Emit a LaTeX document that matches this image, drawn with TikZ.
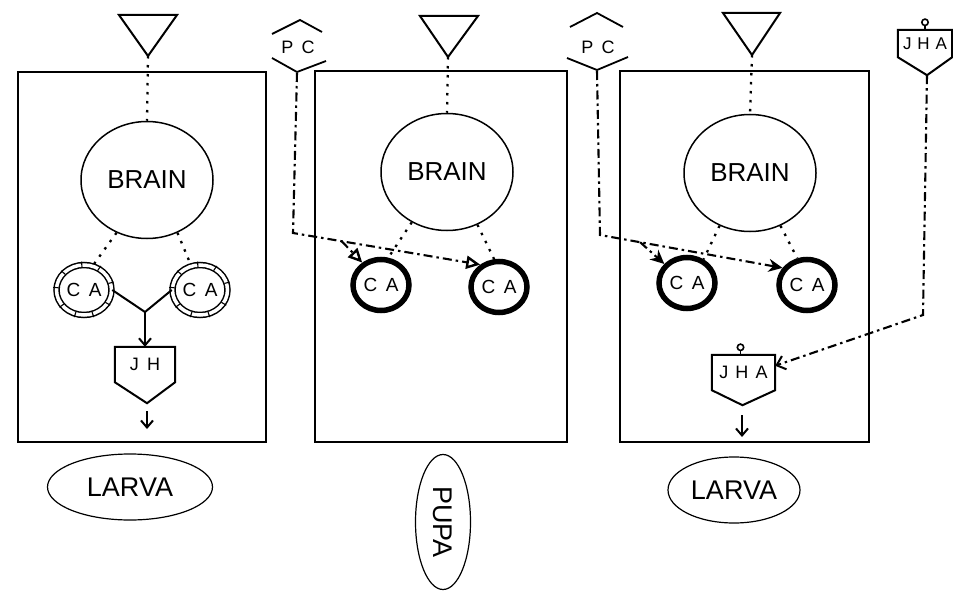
\documentclass[tikz,border=0pt]{standalone}
\usepackage{fontspec}
\setmainfont{Liberation Sans}
\usetikzlibrary{arrows.meta,calc,shapes.geometric}
\newcommand{\lsp}{\hspace{0.45em}}
\begin{document}
\begin{tikzpicture}[x=1pt,y=-1pt,
  boxst/.style={draw,line width=2.3pt,inner sep=0pt},
  brain/.style={draw,ellipse,line width=1.5pt,inner sep=0pt,minimum width=132pt,minimum height=117pt,font=\fontsize{26}{26}\selectfont},
  ringca/.style={draw,ellipse,double,line width=1.5pt,double distance=3.5pt,inner sep=0pt,minimum width=55pt,minimum height=50pt,font=\fontsize{19}{19}\selectfont},
  thickca/.style={draw,ellipse,line width=5.5pt,inner sep=0pt,minimum width=56pt,minimum height=51pt,font=\fontsize{19}{19}\selectfont},
  smalltxt/.style={inner sep=0pt,font=\fontsize{18}{18}\selectfont},
  hormone/.style={inner sep=0pt,minimum height=35pt,font=\fontsize{18}{18}\selectfont},
  stage/.style={draw,ellipse,line width=1.2pt,inner sep=0pt,font=\fontsize{27}{27}\selectfont},
  outl/.style={line width=2pt,line join=miter},
  dots/.style={line width=2.3pt,dash pattern=on 2.5pt off 6.5pt},
  dashdot/.style={line width=2.1pt,dash pattern=on 9pt off 4pt on 2.5pt off 4pt},
  barb/.style={-{Straight Barb[length=7pt,width=12pt,line width=2pt]}},
]
\useasboundingbox (0,0) rectangle (953,591);

% ---------- panels ----------
\node[boxst,minimum width=248pt,minimum height=370pt] (box1) at (142,257) {};
\node[boxst,minimum width=252pt,minimum height=371pt] (box2) at (441,256.5) {};
\node[boxst,minimum width=249pt,minimum height=371pt] (box3) at (744.5,256.5) {};

% ---------- triangles ----------
\coordinate (t1) at (148,56);
\coordinate (t2) at (448,57);
\coordinate (t3) at (752,55);
\draw[outl] (119,15) -- (177,15) -- (t1) -- cycle;
\draw[outl] (420,16) -- (478,16) -- (t2) -- cycle;
\draw[outl] (723,13) -- (780,13) -- (t3) -- cycle;

% ---------- brains ----------
\node[brain] (brain1) at (147,180) {BRAIN};
\node[brain] (brain2) at (447,172) {BRAIN};
\node[brain] (brain3) at (750,173) {BRAIN};

% ---------- corpora allata ----------
\node[ringca] (ca1a) at (84,290) {C\lsp A};
\node[ringca] (ca1b) at (200,290) {C\lsp A};
\foreach \n in {ca1a,ca1b}{
  \foreach \a in {15,55,95,140,175,215,250,290,330}{
    \draw[line width=1.1pt] ($(\n.\a)!-2.8pt!(\n.center)$) -- ($(\n.\a)!2.8pt!(\n.center)$);
  }
}
\node[thickca] (ca2a) at (381,285) {C\lsp A};
\node[thickca] (ca2b) at (499,287) {C\lsp A};
\node[thickca] (ca3a) at (687,283) {C\lsp A};
\node[thickca] (ca3b) at (807,285) {C\lsp A};

% ---------- JH (panel 1) ----------
\node[hormone,minimum width=60pt] (jh) at (145,364.5) {\raisebox{-4pt}{J\lsp H}};
\draw[outl] (jh.north west) -- (jh.north east) -- (jh.south east) -- ($(jh.south)+(2,21)$) coordinate (jhtip) -- (jh.south west) -- cycle;
\coordinate (j1) at (145,312);
\draw[line width=2pt] (ca1a.0) -- (j1) -- (ca1b.180);
\draw[line width=2.2pt,barb] (j1) -- (jh.north);
\coordinate (jho1) at (147,411);
\coordinate (jho2) at (147,429);
\draw[line width=2pt,barb] (jho1) -- (jho2);

% ---------- PC (panel 2 side) ----------
\node[smalltxt] (pc1) at (298,47) {P\lsp C};
\draw[line width=1.8pt] (272,34) -- (300,20) -- (322,32);
\draw[line width=1.8pt] (272,58) -- (297,72) -- (326,61);
\coordinate (pc1b) at (297,73);
\coordinate (c1) at (293,233);

% ---------- PC (panel 3 side) ----------
\node[smalltxt] (pc3) at (598,47) {P\lsp C};
\draw[line width=1.8pt] (570,27) -- (597,13) -- (623,27);
\draw[line width=1.8pt] (567,58) -- (597,70) -- (628,57);
\coordinate (pc3b) at (597,71);
\coordinate (c3) at (600,235);

% ---------- JHA (outside, top right) ----------
\node[hormone,minimum width=54pt,minimum height=27pt] (jhat) at (925,43.5) {\raisebox{-2pt}{\fontsize{17}{17}\selectfont J\hspace{0.35em}H\hspace{0.35em}A}};
\draw[outl] (jhat.north west) -- (jhat.north east) -- (jhat.south east) -- ($(jhat.south)+(2,18)$) coordinate (jhattip) -- (jhat.south west) -- cycle;
\draw[line width=1.6pt] (jhat.north) -- ++(0,-4);
\draw[line width=1.6pt] ($(jhat.north)+(0,-7.5)$) circle[radius=3.2pt];
\coordinate (c4) at (923,315);

% ---------- JHA (panel 3) ----------
\node[hormone,minimum width=63pt] (jha3) at (743.5,372.5) {\raisebox{-2pt}{J\hspace{0.4em}H\hspace{0.4em}A}};
\draw[outl] (jha3.north west) -- (jha3.north east) -- (jha3.south east) -- ($(jha3.south)+(-1,15)$) coordinate (jha3tip) -- (jha3.south west) -- cycle;
\draw[line width=1.6pt] ($(jha3.north)+(-3,0)$) -- ++(0,-4);
\draw[line width=1.6pt] ($(jha3.north)+(-3,-7.5)$) circle[radius=3.2pt];
\coordinate (jha3o1) at (742,415);
\coordinate (jha3o2) at (742,437);
\draw[line width=2pt,barb] (jha3o1) -- (jha3o2);

% ---------- dotted nerve links ----------
\draw[dots] (t1) -- (brain1.north);
\draw[dots] (t2) -- (brain2.north);
\draw[dots] (t3) -- (brain3.north);
\draw[dots] (brain1.240) -- (ca1a.70);
\draw[dots] (brain1.300) -- (ca1b.110);
\draw[dots] (brain2.235) -- (ca2a.75);
\draw[dots] (brain2.300) -- (ca2b.100);
\draw[dots] (brain3.240) -- (ca3a.55);
\draw[dots] (brain3.300) -- (ca3b.110);

% ---------- PC / JHA dash-dot links ----------
\draw[dashdot,-{Triangle[open,length=14pt,width=13pt,line width=2.4pt]}] (pc1b) -- (c1) -- (ca2b.130);
\coordinate (br1) at ($(c1)!0.26!(ca2b.130)$);
\draw[dashdot,-{Triangle[open,length=14pt,width=13pt,line width=2.4pt]}] (br1) -- (ca2a.130);

\draw[dashdot,-{Stealth[length=14pt,width=13pt]}] (pc3b) -- (c3) -- (ca3b.145);
\coordinate (br3) at ($(c3)!0.22!(ca3b.145)$);
\draw[dashdot,-{Stealth[length=14pt,width=13pt]}] (br3) -- (ca3a.140);

\draw[dashdot,-{Straight Barb[length=8pt,width=14pt,line width=2pt]}] (jhattip) -- (c4) -- (jha3.12);

% ---------- stage labels ----------
\node[stage,minimum width=165pt,minimum height=66pt] (larva1) at (130,487) {LARVA};
\node[stage,rotate=-90,minimum width=135pt,minimum height=55pt] (pupa) at (443,522) {PUPA};
\node[stage,minimum width=132pt,minimum height=66pt] (larva3) at (734,490) {LARVA};
\end{tikzpicture}
\end{document}
